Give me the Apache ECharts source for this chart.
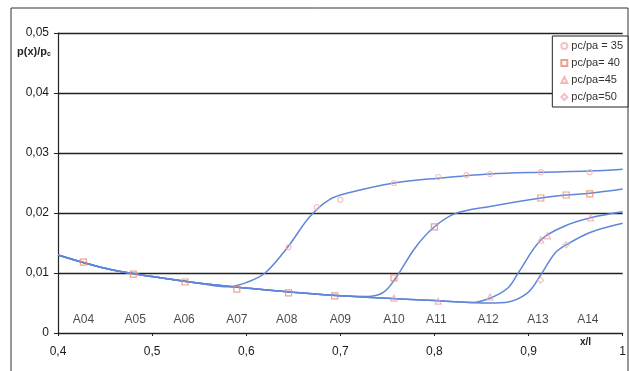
<!DOCTYPE html>
<html><head><meta charset="utf-8">
<script src="https://cdn.jsdelivr.net/npm/echarts@6/dist/echarts.min.js"></script>
<style>html,body{margin:0;padding:0;background:#fff}#c{width:629px;height:371px}</style>
</head><body><div id="c"></div>
<script>
// ---- data ----
const seriesNames = ['pc/pa = 35', 'pc/pa= 40', 'pc/pa=45', 'pc/pa=50'];
const xTicks = [0.4, 0.5, 0.6, 0.7, 0.8, 0.9, 1.0];
const yTicks = [0, 0.01, 0.02, 0.03, 0.04, 0.05];
const stationNames = ['A04','A05','A06','A07','A08','A09','A10','A11','A12','A13','A14'];
const stationX = [0.427,0.482,0.534,0.59,0.643,0.70,0.757,0.802,0.857,0.91,0.963];
const stationLabelY = 0.0022;

// fitted curves (x, y)
const curve35 = [[0.4,0.013],[0.45,0.0108],[0.5,0.0094],[0.55,0.0083],[0.58,0.0077],[0.6,0.0084],[0.62,0.01],[0.645,0.0145],[0.667,0.0193],[0.688,0.0222],[0.71,0.0234],[0.757,0.025],[0.804,0.0258],[0.859,0.0265],[0.913,0.0268],[0.965,0.027],[1.0,0.0273]];
const curve40 = [[0.4,0.013],[0.45,0.0108],[0.5,0.0094],[0.55,0.0083],[0.6,0.0075],[0.65,0.0068],[0.7,0.0062],[0.73,0.0061],[0.746,0.0068],[0.759,0.0092],[0.78,0.0143],[0.8,0.0177],[0.822,0.0199],[0.859,0.0211],[0.913,0.0225],[0.94,0.023],[0.965,0.0233],[1.0,0.024]];
const curve45 = [[0.4,0.013],[0.45,0.0108],[0.5,0.0094],[0.55,0.0083],[0.6,0.0075],[0.65,0.0068],[0.7,0.0062],[0.75,0.0058],[0.8,0.0054],[0.84,0.0051],[0.859,0.0058],[0.878,0.0075],[0.889,0.01],[0.913,0.0155],[0.938,0.0178],[0.966,0.0192],[1.0,0.0202]];
const curve50 = [[0.4,0.013],[0.45,0.0108],[0.5,0.0094],[0.55,0.0083],[0.6,0.0075],[0.65,0.0068],[0.7,0.0062],[0.75,0.0058],[0.8,0.0054],[0.85,0.005],[0.875,0.0051],[0.899,0.0067],[0.913,0.0097],[0.928,0.0133],[0.94,0.0147],[0.966,0.0168],[1.0,0.0183]];

// measured points
const points35 = [[0.645,0.0143],[0.675,0.021],[0.7,0.0222],[0.757,0.025],[0.804,0.026],[0.834,0.0263],[0.859,0.0265],[0.913,0.0268],[0.965,0.0268]];
const points40 = [[0.427,0.0118],[0.48,0.0098],[0.535,0.0085],[0.59,0.0073],[0.645,0.0067],[0.694,0.0062],[0.757,0.0092],[0.8,0.0177],[0.913,0.0225],[0.94,0.023],[0.965,0.0232]];
const points45 = [[0.757,0.0058],[0.804,0.0053],[0.859,0.006],[0.913,0.0155],[0.92,0.0162],[0.966,0.0192]];
const points50 = [[0.913,0.0088],[0.94,0.0147]];

// ---- chart ----
const chart = echarts.init(document.getElementById('c'));
const fmt = v => v === 0 ? '0' : (Math.abs(v-1)<1e-9 ? '1' : String(+v.toFixed(2)).replace('.', ','));
const lineColor = '#5f86d8';
function curve(d){
  return {type:'line', data:d, smooth:0.35, showSymbol:false, symbol:'none', silent:true,
    lineStyle:{color:lineColor, width:1.5}, z:2};
}
function pts(name, d, symbol, color, size){
  return {type:'scatter', name:name, data:d, symbol:symbol, symbolSize:size,
    itemStyle:{color:'transparent', borderColor:color, borderWidth:1.2}, z:3};
}
chart.setOption({
  animation:false,
  backgroundColor:'#fff',
  textStyle:{fontFamily:'Liberation Sans, Arial, sans-serif'},
  grid:{left:58, right:4, top:33, bottom:38},
  xAxis:{type:'value', min:xTicks[0], max:xTicks[xTicks.length-1], interval:0.1,
    axisLine:{lineStyle:{color:'#222', width:1.2}},
    axisTick:{show:true, length:3, lineStyle:{color:'#222'}},
    axisLabel:{formatter:fmt, color:'#1a1a1a', fontSize:12, margin:13},
    splitLine:{show:false}},
  yAxis:{type:'value', min:yTicks[0], max:yTicks[yTicks.length-1], interval:0.01,
    axisLine:{show:true, lineStyle:{color:'#222', width:1.2}},
    axisTick:{show:true, length:4, lineStyle:{color:'#222'}},
    axisLabel:{formatter:fmt, color:'#1a1a1a', fontSize:12, margin:9},
    splitLine:{show:true, lineStyle:{color:'#222', width:1.3}}},
  legend:{orient:'vertical', right:1, top:36,
    data:seriesNames, itemWidth:6, itemHeight:6, itemGap:5,
    padding:[4,5,4,8], borderColor:'#222', borderWidth:1, backgroundColor:'#fff',
    textStyle:{fontSize:11, lineHeight:12, color:'#333', padding:[0,0,0,-1]}},
  graphic:[
    {type:'rect', shape:{x:11, y:8, width:617, height:370}, style:{fill:'none', stroke:'#333', lineWidth:1}, silent:true},
    {type:'text', left:17, top:46, style:{text:'{m|p(x)/p}{s|c}', rich:{m:{fontSize:11, fontWeight:'bold', fill:'#222'}, s:{fontSize:7, fontWeight:'bold', fill:'#222', padding:[5,0,0,0]}}}},
    {type:'text', left:580, top:337, style:{text:'x/l', fontSize:10, fontWeight:'bold', fill:'#222'}}
  ],
  series:[
    curve(curve35), curve(curve40), curve(curve45), curve(curve50),
    pts(seriesNames[0], points35, 'circle', '#f0b4b4', 5),
    pts(seriesNames[1], points40, 'rect', '#e88a6e', 6),
    pts(seriesNames[2], points45, 'triangle', '#f0a8a8', 6),
    pts(seriesNames[3], points50, 'diamond', '#f0b0b8', 6),
    {type:'scatter', data:stationX.map((x,i)=>({value:[x, stationLabelY], name:stationNames[i]})),
      symbolSize:0, silent:true, z:4,
      label:{show:true, position:'inside', formatter:p=>p.name, color:'#1a1a1a', fontSize:12}}
  ]
});
</script></body></html>
